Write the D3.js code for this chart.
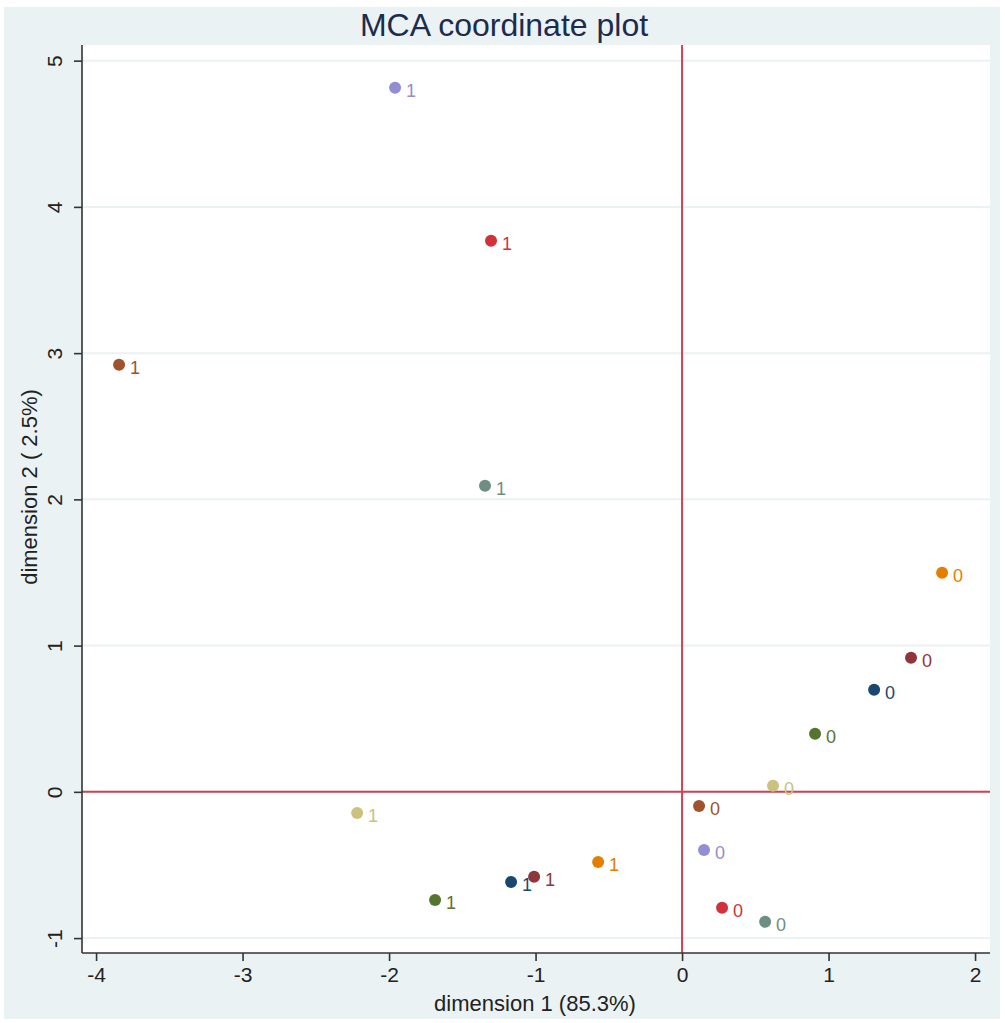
<!DOCTYPE html>
<html>
<head>
<meta charset="utf-8">
<script src="https://cdn.jsdelivr.net/npm/d3@7"></script>
<style>
  html, body { margin: 0; padding: 0; background: #ffffff; }
  svg { display: block; font-family: "Liberation Sans", Arial, Helvetica, sans-serif; }
</style>
</head>
<body>
<svg id="chart" width="1005" height="1023"></svg>
<script>
// Category coordinates on the first two MCA dimensions (two categories per variable)
const variables = ["v1", "v2", "v3", "v4", "v5", "v6", "v7", "v8", "v9"];
const colors = ["#1a476f", "#90353b", "#55752f", "#e37e00", "#6e8e84", "#d0313a", "#938dd2", "#cac27e", "#a0522d"];
const cat0Dim1 = [1.311, 1.563, 0.908, 1.775, 0.567, 0.273, 0.150, 0.621, 0.116];
const cat0Dim2 = [0.698, 0.917, 0.397, 1.498, -0.889, -0.793, -0.397, 0.041, -0.096];
const cat1Dim1 = [-1.167, -1.010, -1.686, -0.573, -1.345, -1.304, -1.959, -2.218, -3.843];
const cat1Dim2 = [-0.616, -0.581, -0.739, -0.479, 2.093, 3.769, 4.815, -0.144, 2.921];
const categoryLabels = ["0", "1"];
const xTicks = [-4, -3, -2, -1, 0, 1, 2];
const yTicks = [-1, 0, 1, 2, 3, 4, 5];

const points = [];
variables.forEach((v, i) => {
  points.push({ v, color: colors[i], x: cat0Dim1[i], y: cat0Dim2[i], label: categoryLabels[0] });
  points.push({ v, color: colors[i], x: cat1Dim1[i], y: cat1Dim2[i], label: categoryLabels[1] });
});

const svg = d3.select("#chart");
const plot = { left: 82, right: 990, top: 45, bottom: 953 };

// Outer graph region
svg.append("rect").attr("x", 4).attr("y", 7).attr("width", 996).attr("height", 1012)
  .attr("fill", "#eaf2f3");
// Plot region
svg.append("rect").attr("x", plot.left).attr("y", plot.top)
  .attr("width", plot.right - plot.left).attr("height", plot.bottom - plot.top)
  .attr("fill", "#ffffff");

const x = d3.scaleLinear().domain([-4.096, 2.102]).range([plot.left, plot.right]);
const y = d3.scaleLinear().domain([-1.102, 5.107]).range([plot.bottom, plot.top]);

// Horizontal grid lines
svg.append("g").selectAll("line").data(yTicks).join("line")
  .attr("x1", plot.left).attr("x2", plot.right)
  .attr("y1", d => y(d)).attr("y2", d => y(d))
  .attr("stroke", "#eaf2f3").attr("stroke-width", 2);

// Reference lines at the origin
svg.append("line").attr("x1", x(0)).attr("x2", x(0)).attr("y1", plot.top).attr("y2", plot.bottom)
  .attr("stroke", "#d43f52").attr("stroke-width", 2);
svg.append("line").attr("x1", plot.left).attr("x2", plot.right).attr("y1", y(0)).attr("y2", y(0))
  .attr("stroke", "#d43f52").attr("stroke-width", 2);

// Axes
const xAxis = svg.append("g").attr("transform", `translate(0,${plot.bottom})`)
  .call(d3.axisBottom(x).tickValues(xTicks).tickSize(8).tickPadding(6).tickFormat(d3.format("d")));
xAxis.select(".domain").attr("d", `M${plot.left},0H${plot.right}`);
const yAxis = svg.append("g").attr("transform", `translate(${plot.left},0)`)
  .call(d3.axisLeft(y).tickValues(yTicks).tickSize(8).tickFormat(d3.format("d")));
yAxis.select(".domain").attr("d", `M0,${plot.top}V${plot.bottom}`);

[xAxis, yAxis].forEach(g => {
  g.select(".domain").attr("stroke", "#333").attr("stroke-width", 1.6);
  g.selectAll(".tick line").attr("stroke", "#333").attr("stroke-width", 1.6);
  g.selectAll(".tick text").attr("font-size", 21).attr("fill", "#222")
    .attr("font-family", "Liberation Sans, Arial, sans-serif");
});
xAxis.selectAll(".tick text").text(d => d < 0 ? "-" + Math.abs(d) : d);
yAxis.selectAll(".tick text")
  .text(d => d < 0 ? "-" + Math.abs(d) : d)
  .attr("x", null).attr("dy", null)
  .attr("text-anchor", "middle")
  .attr("transform", "translate(-20,0) rotate(-90)");

// Points and category labels
const marks = svg.append("g");
marks.selectAll("circle").data(points).join("circle")
  .attr("cx", d => x(d.x)).attr("cy", d => y(d.y)).attr("r", 6)
  .attr("fill", d => d.color);
marks.selectAll("text").data(points).join("text")
  .attr("x", d => x(d.x) + 11).attr("y", d => y(d.y) + 9)
  .attr("font-size", 18).attr("fill", d => d.color)
  .text(d => d.label);

// Titles
svg.append("text").attr("x", 504).attr("y", 36).attr("text-anchor", "middle")
  .attr("font-size", 32).attr("fill", "#1c2b4e").text("MCA coordinate plot");
svg.append("text").attr("x", 535).attr("y", 1011).attr("text-anchor", "middle")
  .attr("font-size", 22).attr("fill", "#222").text("dimension 1 (85.3%)");
svg.append("text").attr("transform", `translate(37,${(plot.top + plot.bottom) / 2 - 12}) rotate(-90)`)
  .attr("text-anchor", "middle").attr("font-size", 22).attr("fill", "#222")
  .text("dimension 2 ( 2.5%)");
</script>
</body>
</html>
